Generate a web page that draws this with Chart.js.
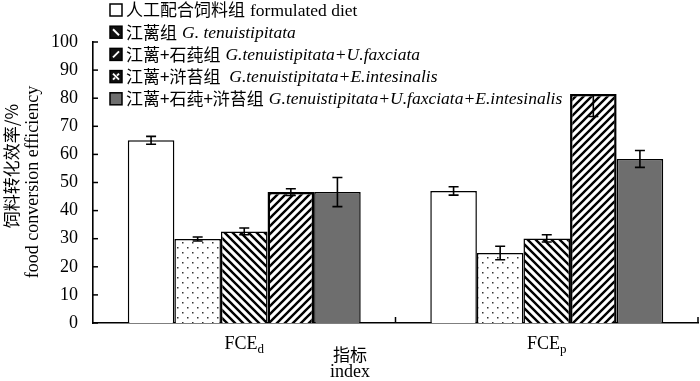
<!DOCTYPE html>
<html>
<head>
<meta charset="utf-8">
<script src="https://cdn.jsdelivr.net/npm/chart.js@4.4.0/dist/chart.umd.min.js"></script>
<style>
  html, body { margin: 0; padding: 0; background: #fff; }
  #wrap { width: 700px; height: 381px; position: relative; }
</style>
</head>
<body>
<div id="wrap"><canvas id="chart" width="700" height="381"></canvas></div>
<script>
  // categories (drawn as FCE + subscript)
  const tickMain = ['FCE', 'FCE'];
  const tickSub = ['d', 'p'];

  // series values and error bars
  const formulated = [65.0, 47.0];
  const formulatedErr = [1.4, 1.5];
  const tenui = [29.9, 24.9];
  const tenuiErr = [0.7, 2.4];
  const tenuiU = [32.6, 30.1];
  const tenuiUErr = [1.2, 1.3];
  const tenuiE = [46.6, 81.5];
  const tenuiEErrUp = [1.2, 0];
  const tenuiEErrDown = [1.2, 8.0];
  const allThree = [46.6, 58.4];
  const allThreeErr = [5.2, 3.0];

  const yTicks = [0, 10, 20, 30, 40, 50, 60, 70, 80, 90, 100];

  const legendCn = ['人工配合饲料组', '江蓠组', '江蓠+石莼组', '江蓠+浒苔组 ', '江蓠+石莼+浒苔组'];
  const legendEn = ['formulated diet', 'G. tenuistipitata', 'G.tenuistipitata+U.faxciata',
    'G.tenuistipitata+E.intesinalis', 'G.tenuistipitata+U.faxciata+E.intesinalis'];
  const legendItalic = [false, true, true, true, true];

  const yTitleCn = '饲料转化效率/%';
  const yTitleEn = 'food conversion efficiency';
  const xTitleCn = '指标';
  const xTitleEn = 'index';

  const serif = '"Liberation Serif", "Times New Roman", serif';
  const cjk = '"Noto Sans CJK SC", sans-serif';

  function makePattern(kind) {
    const c = document.createElement('canvas');
    c.width = 8; c.height = 8;
    const g = c.getContext('2d');
    g.fillStyle = '#fff';
    g.fillRect(0, 0, 8, 8);
    g.strokeStyle = '#000';
    if (kind === 'dots') {
      c.width = 10; c.height = 10;
      g.fillStyle = '#fff'; g.fillRect(0, 0, 10, 10);
      g.fillStyle = '#333';
      g.fillRect(2, 2, 1.5, 1.5);
      g.fillRect(7, 7, 1.5, 1.5);
    } else if (kind === 'back') {
      g.lineWidth = 2.4;
      g.beginPath();
      g.moveTo(-2, -2); g.lineTo(10, 10);
      g.moveTo(-2, 6); g.lineTo(2, 10);
      g.moveTo(6, -2); g.lineTo(10, 2);
      g.stroke();
    } else if (kind === 'fwd') {
      g.lineWidth = 2.4;
      g.beginPath();
      g.moveTo(-2, 10); g.lineTo(10, -2);
      g.moveTo(-2, 2); g.lineTo(2, -2);
      g.moveTo(6, 10); g.lineTo(10, 6);
      g.stroke();
    }
    return document.getElementById('chart').getContext('2d').createPattern(c, 'repeat');
  }

  const errors = [
    { up: formulatedErr, down: formulatedErr },
    { up: tenuiErr, down: tenuiErr },
    { up: tenuiUErr, down: tenuiUErr },
    { up: tenuiEErrUp, down: tenuiEErrDown },
    { up: allThreeErr, down: allThreeErr }
  ];

  const bgPlugin = {
    id: 'bg',
    beforeDraw(chart) {
      const ctx = chart.ctx;
      ctx.save();
      ctx.fillStyle = '#fff';
      ctx.fillRect(0, 0, chart.width, chart.height);
      ctx.restore();
    }
  };

  const extrasPlugin = {
    id: 'extras',
    afterDatasetsDraw(chart) {
      const ctx = chart.ctx;
      const y = chart.scales.y;
      const x = chart.scales.x;
      ctx.save();
      ctx.strokeStyle = '#000';
      ctx.lineWidth = 1.6;
      // error bars
      chart.data.datasets.forEach((ds, i) => {
        const meta = chart.getDatasetMeta(i);
        meta.data.forEach((bar, j) => {
          const v = ds.data[j];
          const top = y.getPixelForValue(v + errors[i].up[j]);
          const bot = y.getPixelForValue(v - errors[i].down[j]);
          ctx.beginPath();
          ctx.moveTo(bar.x, top); ctx.lineTo(bar.x, bot);
          if (errors[i].up[j] > 0) { ctx.moveTo(bar.x - 5, top); ctx.lineTo(bar.x + 5, top); }
          ctx.moveTo(bar.x - 5, bot); ctx.lineTo(bar.x + 5, bot);
          ctx.stroke();
        });
      });
      // inward ticks on y axis
      ctx.lineWidth = 1.5;
      yTicks.forEach(t => {
        const py = y.getPixelForValue(t);
        ctx.beginPath();
        ctx.moveTo(x.left, py); ctx.lineTo(x.left + 5, py);
        ctx.stroke();
      });
      // upward ticks on x axis between / after categories
      const step = (x.right - x.left) / tickMain.length;
      for (let k = 1; k <= tickMain.length; k++) {
        const px = x.left + step * k;
        ctx.beginPath();
        ctx.moveTo(px, y.bottom); ctx.lineTo(px, y.bottom - 6);
        ctx.stroke();
      }
      // category labels with subscript
      ctx.fillStyle = '#000';
      ctx.textBaseline = 'alphabetic';
      tickMain.forEach((lab, k) => {
        const px = x.getPixelForValue(k);
        ctx.font = '18px ' + serif;
        const w1 = ctx.measureText(lab).width;
        ctx.font = '13px ' + serif;
        const w2 = ctx.measureText(tickSub[k]).width;
        const sx = px - (w1 + w2) / 2;
        ctx.font = '18px ' + serif;
        ctx.fillText(lab, sx, 349);
        ctx.font = '13px ' + serif;
        ctx.fillText(tickSub[k], sx + w1, 353);
      });
      // x axis title
      ctx.textAlign = 'center';
      ctx.textBaseline = 'middle';
      ctx.font = '17px ' + cjk;
      ctx.fillText(xTitleCn, 350, 355);
      ctx.textBaseline = 'alphabetic';
      ctx.font = '18px ' + serif;
      ctx.fillText(xTitleEn, 350, 377);
      // y axis title, two rotated lines
      ctx.save();
      ctx.translate(12, 166);
      ctx.rotate(-Math.PI / 2);
      ctx.textBaseline = 'middle';
      ctx.font = '17px ' + cjk;
      ctx.fillText(yTitleCn, 0, 0);
      ctx.restore();
      ctx.save();
      ctx.translate(33, 182);
      ctx.rotate(-Math.PI / 2);
      ctx.textBaseline = 'middle';
      ctx.font = '18px ' + serif;
      ctx.fillText(yTitleEn, 0, 0);
      ctx.restore();
      ctx.textAlign = 'left';
      // legend
      const swatches = ['#fff', 'back', 'fwd', 'cross', '#6e6e6e'];
      legendCn.forEach((cn, k) => {
        const cy = 10 + k * 22.2;
        const bx = 110, bs = 12;
        const sw = swatches[k];
        ctx.lineWidth = 1.5;
        if (sw === 'back' || sw === 'fwd' || sw === 'cross') {
          ctx.fillStyle = '#111';
          ctx.fillRect(bx, cy - bs / 2, bs, bs);
          ctx.strokeStyle = '#fff';
          ctx.lineWidth = 2;
          ctx.beginPath();
          if (sw === 'back') { ctx.moveTo(bx + 3, cy - 3); ctx.lineTo(bx + 9, cy + 3); }
          else if (sw === 'fwd') { ctx.moveTo(bx + 3, cy + 3); ctx.lineTo(bx + 9, cy - 3); }
          else {
            ctx.moveTo(bx + 3, cy - 3); ctx.lineTo(bx + 6, cy);
            ctx.moveTo(bx + 9, cy + 3); ctx.lineTo(bx + 6, cy);
            ctx.moveTo(bx + 9, cy - 3); ctx.lineTo(bx + 7, cy - 1);
            ctx.moveTo(bx + 3, cy + 3); ctx.lineTo(bx + 5, cy + 1);
          }
          ctx.stroke();
          ctx.strokeStyle = '#000';
          ctx.lineWidth = 1.5;
        } else {
          ctx.fillStyle = sw;
          ctx.fillRect(bx, cy - bs / 2, bs, bs);
        }
        ctx.strokeRect(bx, cy - bs / 2, bs, bs);
        ctx.fillStyle = '#000';
        ctx.textBaseline = 'middle';
        ctx.font = '17px ' + cjk;
        ctx.fillText(cn, 126, cy);
        const w = ctx.measureText(cn).width;
        ctx.font = (legendItalic[k] ? 'italic ' : '') + '17.5px ' + serif;
        ctx.fillText(legendEn[k], 126 + w + 5, cy + 1);
      });
      ctx.restore();
    }
  };

  const ctx = document.getElementById('chart').getContext('2d');
  const chart = new Chart(ctx, {
    type: 'bar',
    data: {
      labels: tickMain.map((m, i) => m + tickSub[i]),
      datasets: [
        { label: legendEn[0], data: formulated, backgroundColor: '#fff', borderColor: '#000', borderWidth: 1.5 },
        { label: legendEn[1], data: tenui, backgroundColor: makePattern('dots'), borderColor: '#000', borderWidth: 1.5 },
        { label: legendEn[2], data: tenuiU, backgroundColor: makePattern('back'), borderColor: '#000', borderWidth: 1.5 },
        { label: legendEn[3], data: tenuiE, backgroundColor: makePattern('fwd'), borderColor: '#000', borderWidth: 2.5 },
        { label: legendEn[4], data: allThree, backgroundColor: '#6e6e6e', borderColor: '#000', borderWidth: 1.5 }
      ]
    },
    options: {
      responsive: false,
      animation: false,
      layout: { padding: { top: 42, right: 2, left: 0, bottom: 0 } },
      plugins: { legend: { display: false }, tooltip: { enabled: false } },
      datasets: { bar: { categoryPercentage: 0.77, barPercentage: 1.0 } },
      scales: {
        x: {
          grid: { display: false },
          border: { display: true, color: '#000', width: 1.6 },
          ticks: { display: false },
          afterFit(scale) { scale.height = 58; }
        },
        y: {
          min: 0, max: 100,
          grid: { display: false },
          border: { display: true, color: '#000', width: 1.6 },
          ticks: { stepSize: 10, color: '#000', padding: 7, font: { family: serif, size: 18 } },
          afterFit(scale) { scale.width = 93; }
        }
      }
    },
    plugins: [bgPlugin, extrasPlugin]
  });
</script>
</body>
</html>
